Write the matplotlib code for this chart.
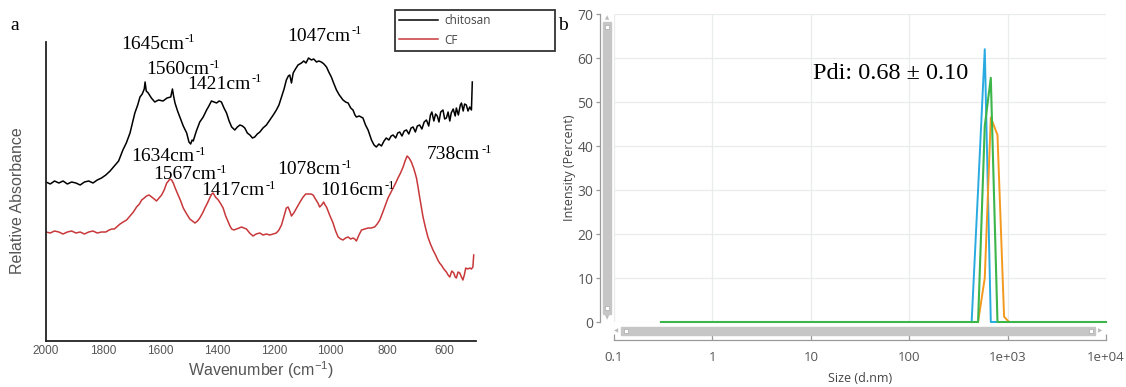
import matplotlib
matplotlib.use("Agg")
import matplotlib.pyplot as plt
from matplotlib.patches import Rectangle

# FTIR spectra (wavenumber, relative absorbance)
chitosan_wn = [2000, 1985, 1970, 1955, 1940, 1925, 1910, 1895, 1880, 1865, 1850, 1835, 1820, 1805,
               1790, 1775, 1760, 1745, 1730, 1718, 1705, 1695, 1688, 1678, 1670, 1662, 1655, 1652,
               1648, 1641, 1630, 1618, 1605, 1589, 1575, 1562, 1556, 1552, 1547, 1538, 1530, 1518,
               1506, 1498, 1492, 1487, 1483, 1472, 1460, 1448, 1436, 1428, 1419, 1410, 1401, 1392,
               1384, 1375, 1366, 1357, 1348, 1337, 1328, 1319, 1310, 1302, 1293, 1284, 1275, 1267,
               1258, 1249, 1238, 1226, 1214, 1202, 1191, 1182, 1173, 1164, 1156, 1149, 1144, 1138,
               1132, 1124, 1115, 1103, 1095, 1087, 1078, 1068, 1060, 1050, 1042, 1033, 1024, 1015,
               1007, 998, 990, 980, 970, 957, 948, 939, 930, 922, 915, 910, 900, 887, 878, 869, 862,
               857, 848, 840, 831, 822, 813, 805, 796, 788, 781, 772, 765, 758, 750, 742, 734, 726,
               718, 711, 703, 696, 688, 680, 672, 664, 656, 650, 645, 638, 632, 626, 620, 614, 606,
               600, 594, 588, 582, 577, 570, 563, 559, 552, 545, 541, 535, 530, 524, 518, 512, 506,
               503]
chitosan_abs = [1.59, 1.57, 1.60, 1.58, 1.60, 1.57, 1.59, 1.58, 1.56, 1.59, 1.60, 1.58, 1.61, 1.63,
                1.66, 1.70, 1.75, 1.80, 1.91, 1.98, 2.08, 2.20, 2.28, 2.36, 2.44, 2.47, 2.52, 2.59,
                2.50, 2.48, 2.43, 2.39, 2.41, 2.40, 2.43, 2.44, 2.52, 2.45, 2.38, 2.30, 2.24, 2.15,
                2.08, 1.99, 1.97, 2.01, 2.00, 2.10, 2.19, 2.24, 2.31, 2.35, 2.40, 2.39, 2.38, 2.40,
                2.39, 2.33, 2.28, 2.20, 2.14, 2.11, 2.14, 2.16, 2.15, 2.13, 2.08, 2.06, 2.03, 2.04,
                2.07, 2.09, 2.13, 2.16, 2.21, 2.26, 2.31, 2.36, 2.44, 2.52, 2.61, 2.65, 2.66, 2.58,
                2.68, 2.72, 2.76, 2.78, 2.80, 2.78, 2.83, 2.81, 2.82, 2.79, 2.80, 2.79, 2.77, 2.74,
                2.69, 2.64, 2.58, 2.51, 2.46, 2.41, 2.39, 2.38, 2.33, 2.31, 2.26, 2.24, 2.25, 2.23,
                2.16, 2.11, 2.05, 2.01, 1.96, 1.94, 1.97, 1.95, 2.00, 2.03, 2.01, 2.05, 2.06, 2.03,
                2.08, 2.09, 2.05, 2.10, 2.11, 2.07, 2.13, 2.14, 2.09, 2.15, 2.16, 2.12, 2.19, 2.21,
                2.15, 2.26, 2.29, 2.20, 2.27, 2.25, 2.19, 2.29, 2.31, 2.22, 2.23, 2.29, 2.20, 2.28,
                2.32, 2.25, 2.33, 2.26, 2.36, 2.38, 2.30, 2.37, 2.36, 2.30, 2.34, 2.31, 2.59]

cf_wn = [2000, 1985, 1970, 1955, 1940, 1925, 1910, 1895, 1880, 1865, 1850, 1835, 1820, 1805, 1790,
         1778, 1769, 1760, 1752, 1740, 1729, 1717, 1705, 1693, 1682, 1672, 1664, 1655, 1647, 1638,
         1629, 1620, 1612, 1603, 1594, 1585, 1576, 1570, 1565, 1559, 1553, 1545, 1536, 1527, 1518,
         1506, 1495, 1486, 1477, 1468, 1460, 1450, 1442, 1433, 1425, 1418, 1413, 1405, 1395, 1386,
         1378, 1369, 1360, 1354, 1348, 1340, 1331, 1322, 1313, 1305, 1296, 1285, 1273, 1262, 1249,
         1238, 1226, 1214, 1203, 1191, 1182, 1173, 1165, 1156, 1150, 1144, 1138, 1130, 1120, 1108,
         1097, 1088, 1080, 1070, 1062, 1054, 1045, 1039, 1032, 1025, 1020, 1015, 1004, 992, 983,
         974, 965, 957, 948, 939, 930, 922, 916, 910, 901, 892, 880, 869, 858, 846, 837, 828, 817,
         808, 799, 790, 781, 772, 764, 755, 746, 739, 732, 725, 717, 708, 699, 693, 688, 682, 676,
         668, 659, 650, 641, 632, 624, 618, 612, 603, 594, 588, 582, 575, 568, 563, 559, 553, 547,
         541, 536, 531, 526, 519, 512, 506, 501, 498]
cf_abs = [1.09, 1.08, 1.10, 1.09, 1.07, 1.09, 1.10, 1.08, 1.09, 1.07, 1.09, 1.10, 1.08, 1.09, 1.09,
          1.11, 1.12, 1.12, 1.14, 1.17, 1.19, 1.21, 1.25, 1.29, 1.34, 1.37, 1.41, 1.43, 1.45, 1.46,
          1.44, 1.42, 1.40, 1.43, 1.46, 1.51, 1.58, 1.60, 1.62, 1.61, 1.58, 1.52, 1.46, 1.40, 1.33,
          1.27, 1.22, 1.20, 1.18, 1.20, 1.23, 1.28, 1.33, 1.38, 1.43, 1.47, 1.48, 1.44, 1.41, 1.37,
          1.33, 1.25, 1.19, 1.15, 1.12, 1.11, 1.12, 1.13, 1.14, 1.13, 1.12, 1.08, 1.05, 1.07, 1.08,
          1.06, 1.07, 1.06, 1.07, 1.08, 1.11, 1.16, 1.24, 1.33, 1.34, 1.30, 1.25, 1.28, 1.33, 1.39,
          1.44, 1.47, 1.47, 1.47, 1.46, 1.42, 1.38, 1.34, 1.36, 1.39, 1.36, 1.34, 1.26, 1.18, 1.10,
          1.04, 1.02, 1.01, 1.03, 1.04, 1.02, 1.03, 1.02, 1.00, 1.06, 1.11, 1.12, 1.13, 1.13, 1.14,
          1.17, 1.21, 1.29, 1.36, 1.43, 1.48, 1.53, 1.58, 1.63, 1.68, 1.74, 1.80, 1.85, 1.83, 1.79,
          1.72, 1.63, 1.53, 1.44, 1.34, 1.24, 1.14, 1.04, 0.97, 0.91, 0.86, 0.81, 0.78, 0.76, 0.72,
          0.69, 0.66, 0.64, 0.70, 0.68, 0.64, 0.63, 0.69, 0.68, 0.64, 0.61, 0.66, 0.73, 0.72, 0.73,
          0.72, 0.74, 0.86]

wn_ticks = [2000, 1800, 1600, 1400, 1200, 1000, 800, 600]

# peak labels: (text, left x px, center y px)
peak_labels = [("1645", 121, 43), ("1560", 146, 68), ("1421", 187, 83), ("1047", 287, 35),
               ("1634", 131, 155), ("1567", 153, 173), ("1417", 201, 189),
               ("1078", 277, 168), ("1016", 320, 189), ("738", 427, 153)]

# DLS size distribution
size_nm = [0.3, 431, 501, 586, 675, 789, 921, 1035, 10000]
run_blue = [0, 0, 30, 62, 0, 0, 0, 0, 0]
run_orange = [0, 0, 0, 10, 46.5, 42.5, 1.2, 0, 0]
run_green = [0, 0, 0, 44.5, 55.5, 0, 0, 0, 0]
size_ticks = [0.1, 1, 10, 100, 1000, 10000]
size_tick_labels = ["0.1", "1", "10", "100", "1e+03", "1e+04"]
intensity_ticks = [0, 10, 20, 30, 40, 50, 60, 70]

plt.rcParams['mathtext.fontset'] = 'custom'
plt.rcParams['mathtext.rm'] = 'Liberation Sans'

W, H = 1126, 387
fig = plt.figure(figsize=(W / 100, H / 100), dpi=100)


def fx(x):
    return x / W


def fy(y):
    return 1 - y / H


# ---------- panel a ----------
ax1 = fig.add_axes([fx(46), fy(341), (476 - 46) / W, (341 - 42) / H])
ax1.plot(chitosan_wn, chitosan_abs, color='black', lw=1.1, label='chitosan')
ax1.plot(cf_wn, cf_abs, color='#c8383a', lw=1.1, label='CF')
ax1.set_xlim(2000, 490)
ax1.set_ylim(0, 2.99)
ax1.set_xticks(wn_ticks)
ax1.set_yticks([])
ax1.tick_params(axis='x', length=0, pad=3, labelsize=8.5, labelcolor='#555555')
for lab in ax1.get_xticklabels():
    lab.set_family('Liberation Sans')
for s in ['top', 'right']:
    ax1.spines[s].set_visible(False)
for s in ['left', 'bottom']:
    ax1.spines[s].set_linewidth(1.3)
    ax1.spines[s].set_color('#222222')

fig.text(fx(261), fy(370), 'Wavenumber (cm$^{\\mathregular{-1}}$)', family='Liberation Sans',
         fontsize=11.5, color='#555555', ha='center', va='center')
fig.text(fx(18), fy(201), 'Relative Absorbance', family='Liberation Sans', fontsize=11.5,
         color='#555555', ha='center', va='center', rotation=90)

renderer = fig.canvas.get_renderer()
for txt, x, y in peak_labels:
    t = fig.text(fx(x), fy(y + 6), txt + 'cm', family='Liberation Serif',
                 fontsize=14, ha='left', va='baseline')
    bb = t.get_window_extent(renderer)
    fig.text((bb.x1 + 1) / W, fy(y + 6) + 6.5 / H, '-1', family='Liberation Serif',
             fontsize=9, ha='left', va='baseline')

leg = ax1.legend(loc='upper left', bbox_to_anchor=(fx(395), fy(51), 160 / W, 41 / H),
                 bbox_transform=fig.transFigure, mode='expand', borderaxespad=0,
                 fancybox=False, edgecolor='#333333', framealpha=1, handlelength=3.3,
                 handletextpad=0.5, labelspacing=0.55, borderpad=0.35,
                 prop={'family': 'Open Sans', 'size': 8.5})
leg.get_frame().set_linewidth(1.3)
for t in leg.get_texts():
    t.set_color('#444444')

fig.text(fx(15), fy(25), 'a', family='Liberation Serif', fontsize=14, ha='center', va='center')

# ---------- panel b ----------
ax2 = fig.add_axes([fx(614), fy(322), (1106 - 614) / W, (322 - 14) / H])
ax2.plot(size_nm, run_blue, color='#29abe2', lw=1.4, clip_on=False)
ax2.plot(size_nm, run_orange, color='#f39a1e', lw=1.4, clip_on=False)
ax2.plot(size_nm, run_green, color='#3cb54a', lw=1.5, clip_on=False)
ax2.set_xscale('log')
ax2.set_xlim(0.1, 10000)
ax2.set_ylim(0, 70)
ax2.set_xticks(size_ticks)
ax2.set_xticklabels(size_tick_labels)
ax2.minorticks_off()
ax2.set_yticks(intensity_ticks)
ax2.grid(True, color='#e8ecec', lw=0.9)
ax2.set_axisbelow(True)
for s in ['top', 'right']:
    ax2.spines[s].set_visible(False)
ax2.spines['left'].set_position(('outward', 9.8))
ax2.spines['bottom'].set_position(('outward', 13))
for s in ['left', 'bottom']:
    ax2.spines[s].set_color('#9a9a9a')
    ax2.spines[s].set_linewidth(0.9)
ax2.tick_params(axis='y', direction='out', length=3, width=0.9, color='#9a9a9a', pad=2,
                labelsize=10, labelcolor='#555555')
ax2.tick_params(axis='x', direction='in', length=4, width=0.9, color='#9a9a9a', pad=8,
                labelsize=9.5, labelcolor='#555555')
for lab in ax2.get_xticklabels() + ax2.get_yticklabels():
    lab.set_family('Open Sans')

fig.text(fx(860), fy(378), 'Size (d.nm)', family='Open Sans', fontsize=9, color='#444444',
         ha='center', va='center')
fig.text(fx(570), fy(168), 'Intensity (Percent)', family='Open Sans', fontsize=9, color='#444444',
         ha='center', va='center', rotation=90)
fig.text(fx(813), fy(79), 'Pdi: 0.68 \u00b1 0.10', family='Liberation Serif', fontsize=17.5,
         ha='left', va='baseline')
fig.text(fx(563), fy(25), 'b', family='Liberation Serif', fontsize=14, ha='center', va='center')


# scrollbars of the instrument software
def px_rect(x0, y0, x1, y1, **kw):
    fig.patches.append(Rectangle((fx(x0), fy(y1)), (x1 - x0) / W, (y1 - y0) / H,
                                 transform=fig.transFigure, figure=fig, **kw))


px_rect(603, 22, 611, 314, color='#c6c6c6')
px_rect(605, 25, 609, 29, facecolor='white', edgecolor='#aaaaaa', lw=0.5)
px_rect(605, 306, 609, 310, facecolor='white', edgecolor='#aaaaaa', lw=0.5)
fig.text(fx(607), fy(18), '\u25b2', fontsize=4, color='#bbbbbb', ha='center', va='center')
fig.text(fx(607), fy(318), '\u25bc', fontsize=4, color='#bbbbbb', ha='center', va='center')

px_rect(621, 327, 1095, 335, color='#c6c6c6')
px_rect(624, 329, 628, 333, facecolor='white', edgecolor='#aaaaaa', lw=0.5)
px_rect(1089, 329, 1093, 333, facecolor='white', edgecolor='#aaaaaa', lw=0.5)
fig.text(fx(616), fy(331), '\u25c0', fontsize=4, color='#bbbbbb', ha='center', va='center')
fig.text(fx(1100), fy(331), '\u25b6', fontsize=4, color='#bbbbbb', ha='center', va='center')

fig.savefig('out.png', dpi=100)
